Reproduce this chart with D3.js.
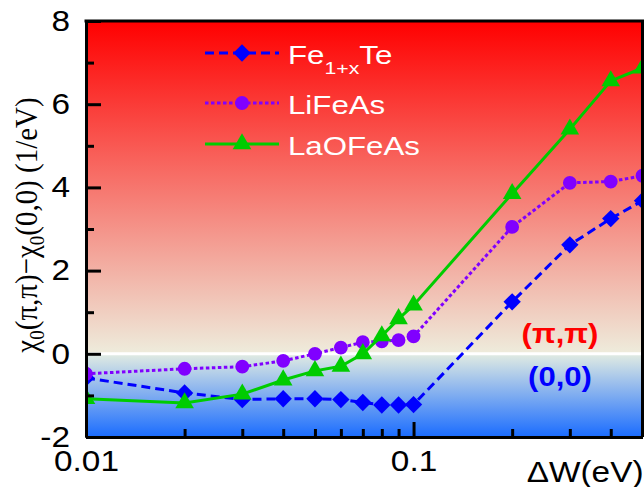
<!DOCTYPE html>
<html>
<head>
<meta charset="utf-8">
<script src="https://cdn.jsdelivr.net/npm/d3@7"></script>
<style>
  body { margin: 0; background: #fff; }
  svg { display: block; }
</style>
</head>
<body>
<div id="chart"></div>
<script>
// Data
const dW = [0.01, 0.02, 0.03, 0.04, 0.05, 0.06, 0.07, 0.08, 0.09, 0.1, 0.2, 0.3, 0.4, 0.5];
const feTe = [-0.58, -0.94, -1.10, -1.08, -1.08, -1.10, -1.17, -1.23, -1.23, -1.22, 1.25, 2.62, 3.25, 3.68];
const liFeAs = [-0.48, -0.36, -0.31, -0.17, 0.0, 0.15, 0.28, 0.30, 0.33, 0.42, 3.05, 4.11, 4.14, 4.28];
const laOFeAs = [-1.08, -1.18, -0.97, -0.63, -0.41, -0.30, 0.0, 0.43, 0.84, 1.17, 3.85, 5.40, 6.56, 6.87];

const yMajor = [-2, 0, 2, 4, 6, 8];
const yMinor = [-1, 1, 3, 5, 7];
const xMajor = [0.01, 0.1];
const xMinor = [0.02, 0.03, 0.04, 0.05, 0.06, 0.07, 0.08, 0.09, 0.2, 0.3, 0.4];

const series = [
  { name: "Fe", sub: "1+x", tail: "Te", values: feTe, color: "#0000ff", dash: "9,5", symbol: "diamond" },
  { name: "LiFeAs", values: liFeAs, color: "#8000ff", dash: "3.5,2.5", symbol: "circle" },
  { name: "LaOFeAs", values: laOFeAs, color: "#00cc00", dash: null, symbol: "triangle" }
];

const width = 644, height = 487;
const margin = { top: 21, right: 1.5, bottom: 50, left: 86 };
const x0 = margin.left, x1 = width - margin.right;
const y0 = margin.top, y1 = height - margin.bottom;

const svg = d3.select("#chart").append("svg")
  .attr("width", width)
  .attr("height", height);

const xScale = d3.scaleLog().domain([0.01, 0.5]).range([x0, x1]);
const yScale = d3.scaleLinear().domain([-2, 8]).range([y1, y0]);

// Background gradient: red above zero, blue below
const defs = svg.append("defs");
const zeroFrac = (yScale(0) - y0) / (y1 - y0);
const grad = defs.append("linearGradient")
  .attr("id", "bg")
  .attr("x1", 0).attr("y1", 0).attr("x2", 0).attr("y2", 1);
[
  [0, "#ff0000"],
  [zeroFrac, "#eeecdc"],
  [zeroFrac, "#e2ece2"],
  [1, "#1a6cff"]
].forEach(([o, c]) => grad.append("stop").attr("offset", o).attr("stop-color", c));

defs.append("clipPath").attr("id", "clip")
  .append("rect")
  .attr("x", x0).attr("y", y0)
  .attr("width", x1 - x0).attr("height", y1 - y0);

svg.append("rect")
  .attr("x", x0).attr("y", y0)
  .attr("width", x1 - x0).attr("height", y1 - y0)
  .attr("fill", "url(#bg)");

// white line at zero
svg.append("line")
  .attr("x1", x0).attr("x2", x1)
  .attr("y1", yScale(0)).attr("y2", yScale(0))
  .attr("stroke", "#fff")
  .attr("stroke-width", 3);

// Symbols
const symbolFor = {
  diamond: d3.symbol().type(d3.symbolSquare).size(150),
  circle: d3.symbol().type(d3.symbolCircle).size(150),
  triangle: d3.symbol().type(d3.symbolTriangle).size(150)
};
const symbolRotate = { diamond: 45, circle: 0, triangle: 0 };

const plot = svg.append("g").attr("clip-path", "url(#clip)");

const line = d3.line()
  .x(d => xScale(d[0]))
  .y(d => yScale(d[1]));

series.forEach(s => {
  const pts = dW.map((w, i) => [w, s.values[i]]);
  plot.append("path")
    .datum(pts)
    .attr("fill", "none")
    .attr("stroke", s.color)
    .attr("stroke-width", 3)
    .attr("stroke-dasharray", s.dash)
    .attr("d", line);

  plot.selectAll(null)
    .data(pts)
    .enter()
    .append("path")
    .attr("d", symbolFor[s.symbol])
    .attr("transform", d => `translate(${xScale(d[0])},${yScale(d[1])}) rotate(${symbolRotate[s.symbol]})`)
    .attr("fill", s.color);
});

// Axes
const axisFont = "Liberation Sans, Arial, sans-serif";

function styleAxis(g) {
  g.select(".domain").attr("stroke", "#000").attr("stroke-width", 3);
  g.selectAll(".tick line").attr("stroke", "#000").attr("stroke-width", 3);
  g.selectAll("text").attr("fill", "#000").attr("font-size", 29).attr("font-family", axisFont);
}

const sx = 1.15;

svg.append("g")
  .attr("transform", `translate(${x0},0)`)
  .call(d3.axisLeft(yScale).tickValues(yMinor).tickSize(-8).tickSizeOuter(0).tickFormat(""))
  .call(styleAxis);

svg.append("g")
  .attr("transform", `translate(${x0},0)`)
  .call(d3.axisLeft(yScale).tickValues(yMajor).tickSize(-15).tickSizeOuter(0).tickPadding(16).tickFormat(d => String(d)))
  .call(styleAxis)
  .call(g => g.selectAll("text").attr("x", -16 / sx).attr("transform", `scale(${sx},1)`));

svg.append("g")
  .attr("transform", `translate(0,${y1})`)
  .call(d3.axisBottom(xScale).tickValues(xMinor).tickSize(-8).tickSizeOuter(0).tickFormat(""))
  .call(styleAxis);

svg.append("g")
  .attr("transform", `translate(0,${y1})`)
  .call(d3.axisBottom(xScale).tickValues(xMajor).tickSize(-15).tickSizeOuter(0).tickPadding(13).tickFormat(d => d === 0.01 ? "0.01" : "0.1"))
  .call(styleAxis)
  .call(g => g.selectAll("text").attr("transform", `scale(${sx},1)`));

// top and right frame
svg.append("line")
  .attr("x1", x0 - 1.5).attr("x2", x1 + 1.5).attr("y1", y0).attr("y2", y0)
  .attr("stroke", "#000").attr("stroke-width", 3);
svg.append("line")
  .attr("x1", x1).attr("x2", x1).attr("y1", y0).attr("y2", y1)
  .attr("stroke", "#000").attr("stroke-width", 3);

// Axis labels
svg.append("text")
  .attr("transform", `translate(${x1 + 1},482) scale(${sx},1)`)
  .attr("text-anchor", "end")
  .attr("font-family", axisFont)
  .attr("font-size", 29)
  .text("ΔW(eV)");

const yLab = svg.append("text")
  .attr("transform", `translate(37,225) rotate(-90) scale(1,1.12)`)
  .attr("text-anchor", "middle")
  .attr("font-family", "Liberation Serif, Times New Roman, serif")
  .attr("font-size", 29)
  .attr("fill", "#000");
yLab.append("tspan").text("χ");
yLab.append("tspan").attr("font-size", 19).attr("dy", 6).text("0");
yLab.append("tspan").attr("dy", -6).text("(π,π)−χ");
yLab.append("tspan").attr("font-size", 19).attr("dy", 6).text("0");
yLab.append("tspan").attr("dy", -6).text("(0,0) (1/eV)");

// Region labels
svg.append("text")
  .attr("transform", `translate(560,343) scale(${sx},1)`)
  .attr("text-anchor", "middle")
  .attr("font-family", axisFont)
  .attr("font-weight", "bold")
  .attr("font-size", 27)
  .attr("fill", "#ff0000")
  .text("(π,π)");

svg.append("text")
  .attr("transform", `translate(560,386) scale(${sx},1)`)
  .attr("text-anchor", "middle")
  .attr("font-family", axisFont)
  .attr("font-weight", "bold")
  .attr("font-size", 27)
  .attr("fill", "#0000ff")
  .text("(0,0)");

// Legend
const legendRows = [53, 103, 144];
const legend = svg.append("g");
series.forEach((s, i) => {
  const y = legendRows[i];
  legend.append("line")
    .attr("x1", 205).attr("x2", 279)
    .attr("y1", y).attr("y2", y)
    .attr("stroke", s.color)
    .attr("stroke-width", 3)
    .attr("stroke-dasharray", s.dash);
  legend.append("path")
    .attr("d", symbolFor[s.symbol])
    .attr("transform", `translate(242,${y}) rotate(${symbolRotate[s.symbol]})`)
    .attr("fill", s.color);
  const t = legend.append("text")
    .attr("transform", `translate(288,${y + 11}) scale(1.25,1)`)
    .attr("font-family", axisFont)
    .attr("font-size", 25)
    .attr("fill", "#fff");
  t.append("tspan").text(s.name);
  if (s.sub) {
    t.append("tspan").attr("font-size", 17).attr("dy", 10).text(s.sub);
    t.append("tspan").attr("dy", -10).text(s.tail);
  }
});
</script>
</body>
</html>
